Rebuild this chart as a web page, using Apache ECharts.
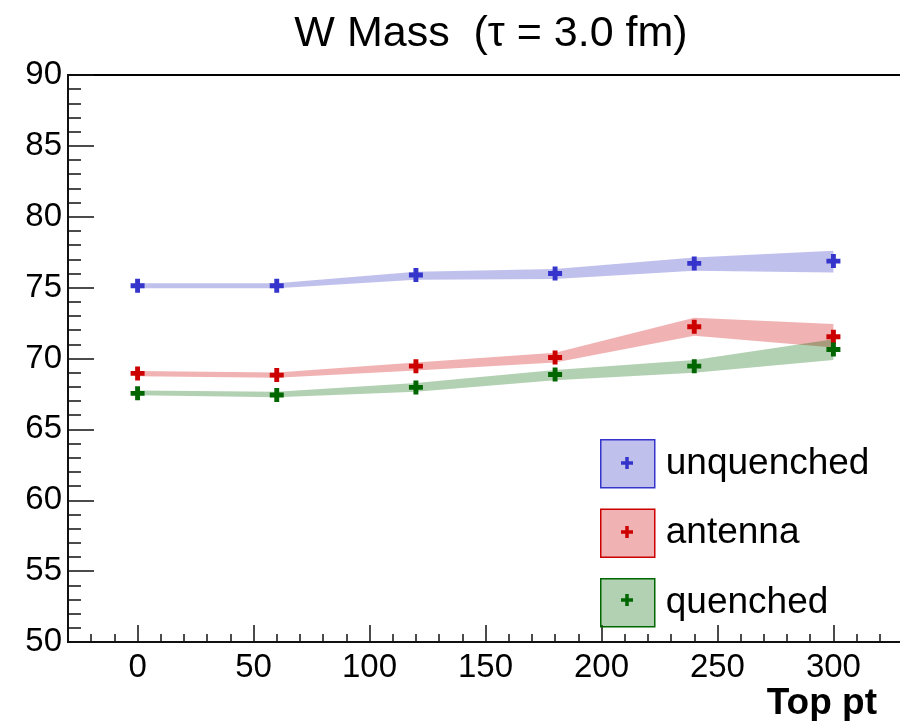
<!DOCTYPE html>
<html>
<head>
<meta charset="utf-8">
<script src="https://cdn.jsdelivr.net/npm/echarts@6/dist/echarts.min.js"></script>
<style>
  html, body { margin: 0; padding: 0; background: #fff; }
  #chart { width: 900px; height: 721px; }
</style>
</head>
<body>
<div id="chart"></div>
<script>
// Top pt values
const topPt = [0, 60, 120, 180, 240, 300];

// unquenched: central value and band edges
const unquenched   = [75.13, 75.13, 75.89, 76.00, 76.71, 76.87];
const unquenchedLo = [74.95, 74.95, 75.55, 75.60, 76.19, 76.07];
const unquenchedHi = [75.30, 75.30, 76.12, 76.31, 77.13, 77.60];

// antenna
const antenna   = [68.95, 68.83, 69.46, 70.07, 72.24, 71.53];
const antennaLo = [68.75, 68.64, 69.15, 69.72, 71.60, 70.78];
const antennaHi = [69.11, 69.01, 69.72, 70.40, 72.87, 72.43];

// quenched
const quenched   = [67.54, 67.42, 67.96, 68.87, 69.46, 70.64];
const quenchedLo = [67.41, 67.27, 67.65, 68.47, 68.99, 69.89];
const quenchedHi = [67.74, 67.65, 68.28, 69.18, 69.89, 71.35];

const majorXTicks = [0, 50, 100, 150, 200, 250, 300];

const FONT = '"Liberation Sans", Arial, Helvetica, sans-serif';
const PLUS = 'path://M6.5,0H13.5V6.5H20V13.5H13.5V20H6.5V13.5H0V6.5H6.5Z';

const styles = {
  unquenched: { line: '#3535cc', fill: 'rgba(48,48,196,0.30)' },
  antenna:    { line: '#cc0000', fill: 'rgba(204,0,0,0.30)' },
  quenched:   { line: '#006600', fill: 'rgba(0,102,0,0.30)' }
};

// Filled band between the lower and upper edges, drawn as one polygon
function bandSeries(name, lo, hi) {
  return {
    name: name,
    type: 'custom',
    clip: true,
    z: 2,
    data: topPt.map((x, i) => [x, lo[i], hi[i]]),
    encode: { x: 0, y: [1, 2] },
    renderItem: function (params, api) {
      if (params.dataIndex !== 0) return;
      const pts = [];
      for (let i = 0; i < topPt.length; i++) pts.push(api.coord([topPt[i], lo[i]]));
      for (let i = topPt.length - 1; i >= 0; i--) pts.push(api.coord([topPt[i], hi[i]]));
      return { type: 'polygon', shape: { points: pts }, style: { fill: styles[name].fill } };
    }
  };
}

function markerSeries(name, vals) {
  return {
    name: name,
    type: 'scatter',
    z: 5,
    symbol: PLUS,
    symbolSize: 14,
    itemStyle: { color: styles[name].line, opacity: 1 },
    data: topPt.map((x, i) => [x, vals[i]])
  };
}

// small crosses drawn inside the legend boxes
function legendCross(cx, cy, color) {
  return {
    type: 'group',
    z: 100,
    children: [
      { type: 'rect', shape: { x: cx - 6, y: cy - 1.75, width: 12, height: 3.5 }, style: { fill: color } },
      { type: 'rect', shape: { x: cx - 1.75, y: cy - 6, width: 3.5, height: 12 }, style: { fill: color } }
    ]
  };
}

const chart = echarts.init(document.getElementById('chart'), null, { renderer: 'canvas' });

chart.setOption({
  animation: false,
  backgroundColor: '#ffffff',
  title: [
    {
      text: 'W Mass  (\u03C4 = 3.0 fm)',
      left: 486, top: 8, textAlign: 'center',
      textStyle: { fontFamily: FONT, fontSize: 43, fontWeight: 'normal', color: '#000' }
    },
    {
      text: 'Top pt',
      right: 18, top: 680,
      textStyle: { fontFamily: FONT, fontSize: 37, fontWeight: 'bold', color: '#000' }
    }
  ],
  grid: {
    left: 68, top: 75, width: 835, height: 567,
    outerBoundsMode: 'none',
    containLabel: false,
    show: true, borderColor: '#000', borderWidth: 2, backgroundColor: 'transparent'
  },
  xAxis: [
    {
      type: 'value', min: -30, max: 330, interval: 10,
      position: 'bottom',
      axisLine: { show: true, onZero: false, lineStyle: { color: '#111', width: 2 } },
      axisTick: { show: true, inside: true, length: 8, lineStyle: { color: '#111', width: 1.5 } },
      axisLabel: {
        show: true, margin: 9, color: '#000', fontFamily: FONT, fontSize: 33,
        formatter: v => (v % 50 === 0 && v >= 0 && v <= 300) ? String(v) : ''
      },
      splitLine: { show: false }
    },
    {
      type: 'value', min: -30, max: 330,
      position: 'bottom', offset: 0, gridIndex: 0,
      axisLine: { show: false },
      axisTick: { show: true, inside: true, length: 17, customValues: majorXTicks,
                  lineStyle: { color: '#111', width: 1.5 } },
      axisLabel: { show: false },
      splitLine: { show: false }
    }
  ],
  yAxis: {
    type: 'value', min: 50, max: 90, interval: 5,
    axisLine: { show: true, onZero: false, lineStyle: { color: '#111', width: 2 } },
    axisTick: { show: true, inside: true, length: 26, lineStyle: { color: '#111', width: 1.5 } },
    minorTick: { show: true, splitNumber: 5, length: 13, lineStyle: { color: '#111', width: 1.5 } },
    axisLabel: { margin: 6, color: '#000', fontFamily: FONT, fontSize: 33 },
    splitLine: { show: false }
  },
  legend: {
    orient: 'vertical',
    left: 600, top: 439,
    padding: 0,
    itemWidth: 54, itemHeight: 48, itemGap: 20,
    selectedMode: false,
    textStyle: { fontFamily: FONT, fontSize: 37, color: '#000', padding: [0, 0, 0, 6] },
    data: ['unquenched', 'antenna', 'quenched'].map(n => ({
      name: n, icon: 'rect',
      itemStyle: { color: styles[n].fill, borderColor: styles[n].line, borderWidth: 1.5 }
    }))
  },
  graphic: [
    legendCross(627, 463, styles.unquenched.line),
    legendCross(627, 532, styles.antenna.line),
    legendCross(627, 600, styles.quenched.line)
  ],
  series: [
    bandSeries('unquenched', unquenchedLo, unquenchedHi),
    bandSeries('antenna', antennaLo, antennaHi),
    bandSeries('quenched', quenchedLo, quenchedHi),
    markerSeries('unquenched', unquenched),
    markerSeries('antenna', antenna),
    markerSeries('quenched', quenched)
  ]
});
</script>
</body>
</html>
